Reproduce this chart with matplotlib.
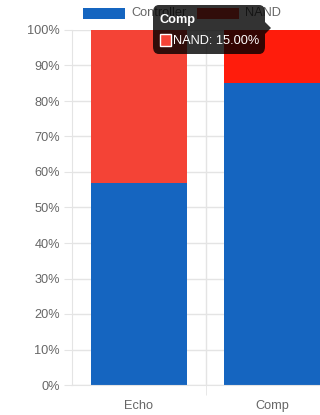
import matplotlib
matplotlib.use("Agg")
import matplotlib.pyplot as plt
from matplotlib.patches import FancyBboxPatch, Rectangle, Polygon
from matplotlib.ticker import FixedLocator

plt.rcParams['font.family'] = ['Liberation Sans', 'DejaVu Sans']

categories = ['Echo', 'Comp']
controller = [57, 85]
nand = [43, 15]
series_names = ['Controller', 'NAND']
y_ticks = list(range(0, 101, 10))
tooltip_title = 'Comp'
tooltip_label = 'NAND: 15.00%'

BLUE = '#1565C0'
RED = '#F44336'
RED_HOVER = '#FF1C0C'
GRID = '#e4e4e4'
TXT = '#666666'
FS = 9.2

W, H = 320, 415
fig = plt.figure(figsize=(W / 100, H / 100), dpi=100)

def fx(x):
    return x / W

def fy(y):
    return 1 - y / H

ax = fig.add_axes([fx(72), fy(385), 267 / W, 355 / H])
x = list(range(len(categories)))
ax.bar(x, controller, width=0.72, color=BLUE, zorder=2)
nand_colors = [RED, RED_HOVER]
ax.bar(x, nand, width=0.72, bottom=controller, color=nand_colors, zorder=2)

ax.set_xlim(-0.5, len(categories) - 0.5)
ax.set_ylim(0, 100)
ax.set_yticks(y_ticks)
ax.set_yticklabels([f'{v}%' for v in y_ticks])
ax.yaxis.grid(True, color=GRID, linewidth=1, zorder=0)
ax.tick_params(axis='y', length=5.8, color=GRID, labelcolor=TXT, labelsize=FS, pad=3)

ax.set_xticks(x)
ax.set_xticklabels(categories)
ax.tick_params(axis='x', which='major', length=0, labelcolor=TXT, labelsize=FS, pad=11)
ax.xaxis.set_minor_locator(FixedLocator([i + 0.5 for i in x]))
ax.tick_params(axis='x', which='minor', length=7.2, color=GRID)
ax.xaxis.grid(True, which='minor', color=GRID, linewidth=1, zorder=0)

for s in ['top', 'right']:
    ax.spines[s].set_visible(False)
for s in ['left', 'bottom']:
    ax.spines[s].set_color(GRID)
ax.spines['bottom'].set_bounds(-0.5, len(categories) - 0.5)

# Legend (manual, Chart.js style)
legend_items = [(series_names[0], BLUE, 83, 131), (series_names[1], RED, 197, 245)]
for name, col, sx, tx in legend_items:
    fig.patches.append(Rectangle((fx(sx), fy(19)), 42 / W, 11 / H, transform=fig.transFigure,
                                 facecolor=col, edgecolor='none', zorder=3))
    fig.text(fx(tx), fy(13.5), name, color=TXT, fontsize=FS, va='center', ha='left', zorder=3)

# Tooltip
tt_left, tt_top, tt_right, tt_bot = 153, 5, 265, 54
fig.patches.append(FancyBboxPatch((fx(tt_left), fy(tt_bot)), (tt_right - tt_left) / W,
                                  (tt_bot - tt_top) / H, transform=fig.transFigure,
                                  boxstyle='round,pad=0,rounding_size=0.018',
                                  facecolor=(0, 0, 0, 0.8), edgecolor='none', zorder=10))
fig.patches.append(Polygon([(fx(tt_right), fy(22)), (fx(tt_right + 6), fy(28)), (fx(tt_right), fy(34))],
                           closed=True, transform=fig.transFigure,
                           facecolor=(0, 0, 0, 0.8), edgecolor='none', zorder=10))
fig.text(fx(159), fy(20), tooltip_title, color='white', fontsize=FS, fontweight='bold',
         va='center', ha='left', zorder=11)
fig.patches.append(Rectangle((fx(160), fy(46)), 11 / W, 12 / H, transform=fig.transFigure,
                             facecolor=RED, edgecolor='white', linewidth=1, zorder=11))
fig.text(fx(173), fy(40.5), tooltip_label, color='white', fontsize=FS,
         va='center', ha='left', zorder=11)

fig.savefig('out.png', dpi=100)
